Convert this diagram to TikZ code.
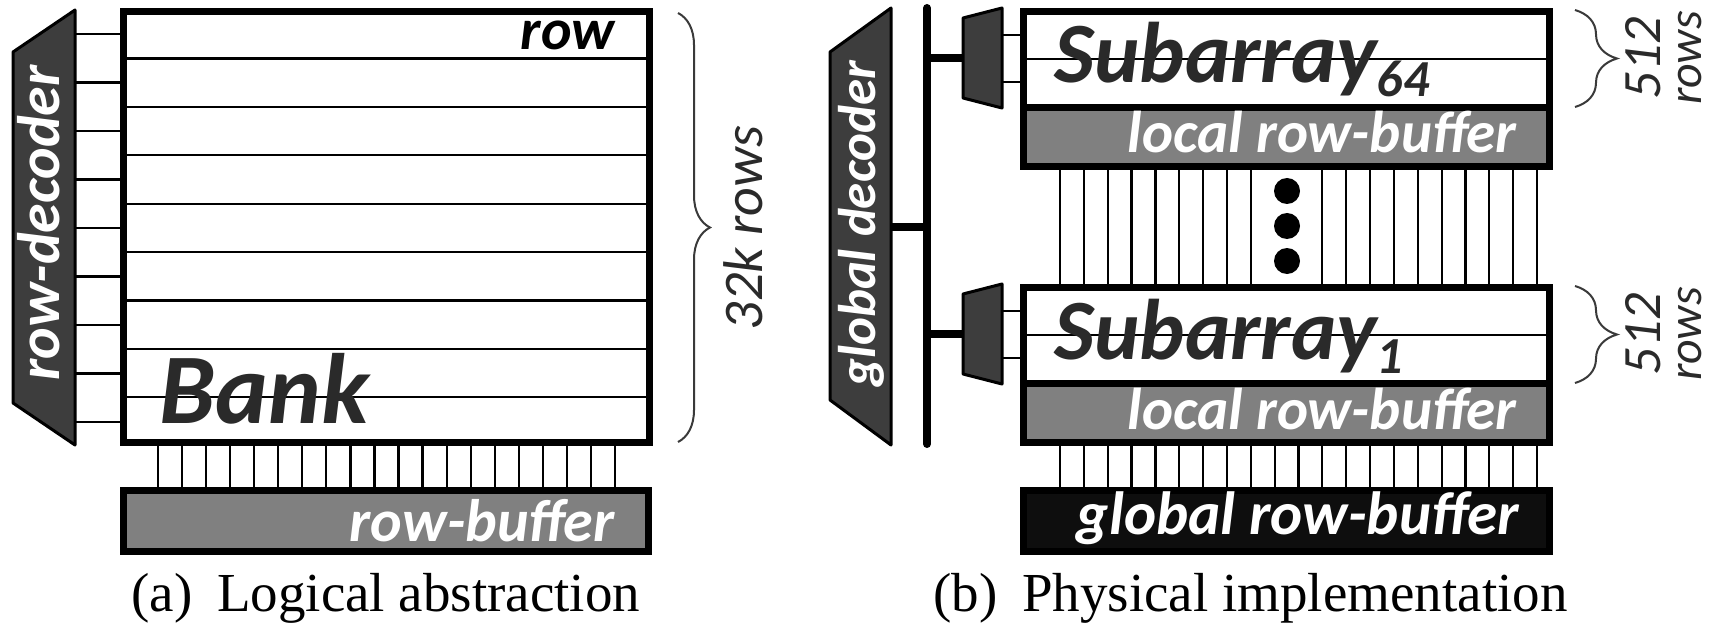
\documentclass[tikz,border=0pt]{standalone}
\usepackage{fontspec}
\setmainfont{Liberation Serif}
\newfontfamily\carlito{Carlito}
\usetikzlibrary{decorations.pathreplacing,calc}
\definecolor{decfill}{HTML}{3D3D3D}
\definecolor{inkgray}{HTML}{2A2A2A}
\definecolor{bufgray}{HTML}{808080}
\definecolor{gbuf}{HTML}{0E0E0E}
\definecolor{bracecol}{HTML}{3A3A3A}
\tikzset{
  frame/.style={line width=3.5pt},
  thin line/.style={line width=1.1pt},
  decoder/.style={fill=decfill, draw=black, line width=1.5pt, line join=round},
  bus/.style={line width=4pt},
  lbl/.style={inner sep=0pt, font=\carlito\bfseries\itshape},
  wlbl/.style={lbl, text=white},
  cbrace/.style={decorate, draw=bracecol, line width=1pt},
  caption/.style={inner sep=0pt, anchor=base west, font=\fontsize{27.5}{30}\selectfont}
}
\begin{document}
\begin{tikzpicture}[x=0.5pt,y=-0.5pt]
\useasboundingbox (0,0) rectangle (1715,626);

% ---------------- (a) logical bank ----------------
% row decoder
\draw[decoder] (13,52) -- (75,10) -- (75,445) -- (13,403) -- cycle;
\node[wlbl, rotate=90, anchor=base, font=\carlito\bfseries\itshape\fontsize{30}{31}\selectfont]
  (rdec) at (60,223) {row-decoder};
% word lines from the decoder
\foreach \k in {0,...,8}
  \draw[thin line] (75,{34+48.5*\k}) -- (123.5,{34+48.5*\k});
% bank array
\fill[white] (123.5,11.5) rectangle (649,442);
\foreach \k in {0,...,7}
  \draw[thin line] (123.5,{58.5+48.4*\k}) -- (649,{58.5+48.4*\k});
\draw[frame] (123.5,11.5) rectangle (649,442);
\coordinate (banktop) at (678,13);
\coordinate (bankbot) at (678,442);
\node[lbl, anchor=base east, font=\carlito\bfseries\itshape\fontsize{29}{30}\selectfont] (rowlbl) at (615,50) {row};
\node[lbl, anchor=base west, text=inkgray, font=\carlito\bfseries\itshape\fontsize{50}{52}\selectfont] (bank) at (159,423) {Bank};
% bit lines to the row buffer
\foreach \k in {0,...,19}
  \draw[thin line] ({158+24.05*\k},442) -- ({158+24.05*\k},490.5);
% row buffer
\draw[frame, fill=bufgray] (123.5,490.5) rectangle (648.5,551.5);
\node[wlbl, anchor=base east, font=\carlito\bfseries\itshape\fontsize{30}{31}\selectfont] (rbuf) at (615,541) {row-buffer};
% 32k rows brace
\draw[cbrace, decoration={brace, amplitude=16pt}] (banktop) -- (bankbot);
\node[inner sep=0pt, rotate=90, anchor=base, text=inkgray, font=\carlito\itshape\fontsize{28}{30}\selectfont] (rows32) at (762,228) {32k rows};

\node[caption] (capa) at (131,611) {(a)\hskip0.45em Logical abstraction};

% ---------------- (b) physical bank ----------------
% global decoder and bus
\draw[decoder] (830,52) -- (891,8) -- (891,445) -- (830,400) -- cycle;
\node[wlbl, rotate=90, anchor=base, font=\carlito\bfseries\itshape\fontsize{26.5}{28}\selectfont]
  (gdec) at (875,224) {global decoder};
\coordinate (bustop) at (927,8);
\coordinate (busbot) at (927,444);
\draw[bus, line cap=round] (bustop) -- (busbot);
\draw[bus] (891,227) -- (927,227);

% subarrays with their local decoders and row buffers
\foreach \o/\s in {0/64, 276/1} {
  % branch and local decoder
  \draw[bus] (927,{58+\o}) -- (964,{58+\o});
  \draw[decoder] (963,{18+\o}) -- (1002,{8+\o}) -- (1002,{108+\o}) -- (963,{98+\o}) -- cycle;
  \draw[thin line] (1002,{35+\o}) -- (1023.5,{35+\o});
  \draw[thin line] (1002,{82+\o}) -- (1023.5,{82+\o});
  % cell array and local row buffer
  \fill[white] (1023.5,{11.5+\o}) rectangle (1549.5,{107.5+\o});
  \fill[bufgray] (1023.5,{107.5+\o}) rectangle (1549.5,{166.5+\o});
  \draw[thin line] (1023.5,{59+\o}) -- (1549.5,{59+\o});
  \draw[frame] (1023.5,{11.5+\o}) rectangle (1549.5,{166.5+\o});
  \draw[frame] (1023.5,{107.5+\o}) -- (1549.5,{107.5+\o});
  \node[lbl, anchor=base west, text=inkgray, font=\carlito\bfseries\itshape\fontsize{43}{45}\selectfont]
    at (1054,{83+\o}) {Subarray\raisebox{-7pt}{\fontsize{26}{27}\selectfont\s}};
  \node[wlbl, anchor=base east, font=\carlito\bfseries\itshape\fontsize{29.5}{31}\selectfont]
    at (1517,{153+\o}) {local row-buffer};
  % 512 rows brace
  \draw[cbrace, decoration={brace, amplitude=21pt}] (1575,{10+\o}) -- (1575,{107+\o});
  \node[inner sep=0pt, rotate=90, anchor=base, text=inkgray, font=\carlito\itshape\fontsize{27}{29}\selectfont]
    at (1660,{58+\o}) {512};
  \node[inner sep=0pt, rotate=90, anchor=base, text=inkgray, font=\carlito\itshape\fontsize{24}{26}\selectfont]
    at (1701,{58+\o}) {rows};
}

% bit lines between the subarrays (interrupted by the ellipsis)
\foreach \k in {0,...,8,11,12,...,20}
  \draw[thin line] ({1060+23.85*\k},166.5) -- ({1060+23.85*\k},287.5);
\foreach \y in {191,226,261}
  \fill (1287,\y) circle[radius=13];
% bit lines to the global row buffer
\foreach \k in {0,...,20}
  \draw[thin line] ({1060+23.85*\k},442.5) -- ({1060+23.85*\k},490.5);
\draw[frame, fill=gbuf] (1023.5,490.5) rectangle (1549.5,551.5);
\node[wlbl, anchor=base east, font=\carlito\bfseries\itshape\fontsize{30.5}{32}\selectfont] (gbuflbl) at (1519,534) {global row-buffer};

\node[caption] (capb) at (933,611) {(b)\hskip0.45em Physical implementation};
\end{tikzpicture}
\end{document}
